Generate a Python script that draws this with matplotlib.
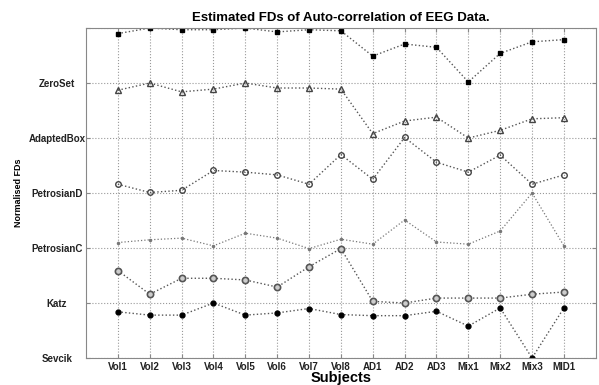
import matplotlib
matplotlib.use("Agg")
import matplotlib.pyplot as plt

plt.rcParams["font.family"] = ["Liberation Sans", "DejaVu Sans"]

subjects = ["Vol1", "Vol2", "Vol3", "Vol4", "Vol5", "Vol6", "Vol7", "Vol8",
            "AD1", "AD2", "AD3", "Mix1", "Mix2", "Mix3", "MID1"]
fd_names = ["Sevcik", "Katz", "PetrosianC", "PetrosianD", "AdaptedBox", "ZeroSet"]

# normalised FD values (each series offset by its row on the y axis)
top_series = [5.90, 6.00, 5.97, 5.97, 6.00, 5.93, 5.97, 5.95, 5.49, 5.71, 5.65, 5.02, 5.54, 5.75, 5.79]
zeroset = [4.87, 5.00, 4.84, 4.89, 5.00, 4.91, 4.91, 4.89, 4.08, 4.31, 4.38, 4.00, 4.14, 4.35, 4.37]
adaptedbox = [3.16, 3.01, 3.05, 3.41, 3.38, 3.33, 3.16, 3.70, 3.25, 4.01, 3.56, 3.38, 3.69, 3.16, 3.33]
petrosian_d = [2.10, 2.15, 2.18, 2.04, 2.27, 2.18, 1.99, 2.16, 2.07, 2.51, 2.11, 2.07, 2.31, 3.00, 2.04]
katz = [1.59, 1.16, 1.45, 1.45, 1.42, 1.29, 1.66, 1.99, 1.03, 1.00, 1.09, 1.09, 1.09, 1.16, 1.20]
sevcik = [0.84, 0.78, 0.78, 1.00, 0.78, 0.82, 0.90, 0.79, 0.77, 0.77, 0.85, 0.58, 0.91, 0.00, 0.91]

x = list(range(1, len(subjects) + 1))

fig = plt.figure(figsize=(5.99, 3.85), dpi=100)
ax = fig.add_axes([0.1436, 0.0701, 0.851, 0.857])

line_kw = dict(color="#555555", linestyle=":", linewidth=1.0)
ax.plot(x, top_series, marker="s", markersize=3, markerfacecolor="black",
        markeredgecolor="black", **line_kw)
ax.plot(x, zeroset, marker="^", markersize=4.5, markerfacecolor="none",
        markeredgecolor="#444444", markeredgewidth=1.0, **line_kw)
ax.plot(x, adaptedbox, marker="o", markersize=4, markerfacecolor="none",
        markeredgecolor="#444444", markeredgewidth=1.0, **line_kw)
ax.plot(x, petrosian_d, marker=".", markersize=3, color="#777777",
        linestyle=":", linewidth=0.9)
ax.plot(x, katz, marker="o", markersize=4.5, markerfacecolor="#cccccc",
        markeredgecolor="#555555", markeredgewidth=1.2, **line_kw)
ax.plot(x, sevcik, marker="o", markersize=3.5, markerfacecolor="black",
        markeredgecolor="black", **line_kw)

ax.set_xlim(0, 16)
ax.set_ylim(0, 6)
ax.set_xticks(x)
ax.set_xticklabels(subjects, fontsize=7, fontweight="bold", color="#222222")
ax.set_yticks(range(7))
ax.set_yticklabels(fd_names + [""], fontsize=7, fontweight="bold", color="#222222",
                   ha="center")
ax.tick_params(axis="both", direction="in", length=3, color="#888888",
               right=True, top=True)
ax.tick_params(axis="y", pad=21)
ax.tick_params(axis="x", pad=3)
ax.grid(True, linestyle=":", color="#999999", linewidth=0.8)
for s in ax.spines.values():
    s.set_color("#888888")

ax.set_title("Estimated FDs of Auto-correlation of EEG Data.", fontsize=9.5,
             fontweight="bold", pad=5)
ax.set_xlabel("Subjects", fontsize=10.5, fontweight="bold", va="center")
ax.xaxis.set_label_coords(0.5, -0.061)
ax.set_ylabel("Normalised FDs", fontsize=6.5, fontweight="bold", va="center")
ax.yaxis.set_label_coords(-0.133, 0.5)

fig.savefig("out.png", dpi=100)
